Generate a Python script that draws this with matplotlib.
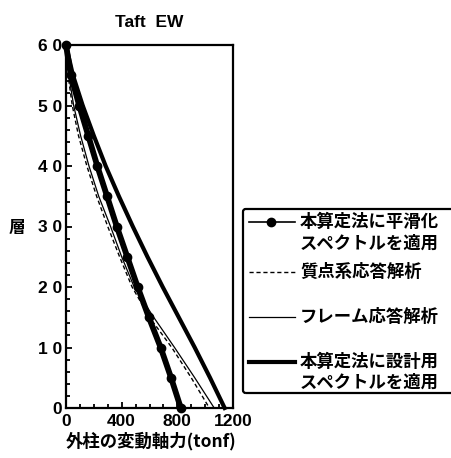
import matplotlib
matplotlib.use("Agg")
import matplotlib.pyplot as plt
from matplotlib.patches import FancyBboxPatch
from matplotlib.lines import Line2D
from matplotlib.ticker import MultipleLocator

plt.rcParams['font.family'] = ['Liberation Sans', 'Noto Sans CJK JP', 'DejaVu Sans']

# ---- data ----
floors = [60, 55, 50, 45, 40, 35, 30, 25, 20, 15, 10, 5, 0]
smoothed = [0, 35, 95, 160, 225, 295, 365, 440, 515, 595, 680, 755, 825]
mass_system = [0, 15, 45, 90, 150, 220, 300, 385, 475, 600, 760, 900, 1030]
frame = [0, 20, 55, 105, 165, 235, 320, 400, 490, 630, 780, 925, 1065]
design = [0, 50, 120, 200, 285, 380, 480, 585, 695, 810, 925, 1035, 1140]

xticks = [0, 400, 800, 1200]
xticklabels = ['0', '400', '800', '1200']
yticks = [0, 10, 20, 30, 40, 50, 60]
yticklabels = ['0', '1 0', '2 0', '3 0', '4 0', '5 0', '6 0']

legend_labels = ['本算定法に平滑化\nスペクトルを適用', '質点系応答解析',
                 'フレーム応答解析', '本算定法に設計用\nスペクトルを適用']

W, H = 451, 458
fig = plt.figure(figsize=(W / 100, H / 100), dpi=100)
ax = fig.add_axes([66 / W, 1 - 408 / H, (233 - 66) / W, (408 - 45) / H])

ax.plot(smoothed, floors, color='black', lw=4.2, marker='o', ms=6, clip_on=False,
        solid_capstyle='round')
ax.plot(mass_system, floors, color='black', lw=1.0, ls=(0, (3, 2)), clip_on=False)
ax.plot(frame, floors, color='black', lw=0.9, clip_on=False)
ax.plot(design, floors, color='black', lw=3.0, clip_on=False)

ax.set_xlim(0, 1200)
ax.set_ylim(0, 60)
for s in ax.spines.values():
    s.set_linewidth(1.6)

ax.set_xticks(xticks)
ax.set_xticklabels(xticklabels, fontsize=12.5, fontweight='bold')
ax.set_yticks(yticks)
ax.set_yticklabels(yticklabels, fontsize=12.5, fontweight='bold')
ax.xaxis.set_minor_locator(MultipleLocator(100))
ax.yaxis.set_minor_locator(MultipleLocator(2))
ax.tick_params(which='major', direction='in', length=4, width=1.3, pad=3)
ax.tick_params(which='minor', direction='in', length=3, width=1.3)
ax.tick_params(axis='x', pad=4)

ax.set_title('Taft  EW', fontsize=12.5, fontweight='bold', pad=13)

jp = ['Noto Sans CJK JP', 'DejaVu Sans']
fig.text(17 / W, 1 - 228 / H, '層', fontsize=12, fontweight='bold',
         ha='center', va='center', family=jp)
fig.text(151 / W, 1 - 441 / H, '外柱の変動軸力(tonf)', fontsize=12.5,
         fontweight='bold', ha='center', va='center', family=jp)

# ---- legend (drawn manually) ----
box = FancyBboxPatch((243 / W, 1 - 393 / H), (470 - 243) / W, (393 - 209) / H,
                     boxstyle='round,pad=0,rounding_size=0.006',
                     transform=fig.transFigure, fill=False, lw=1.6,
                     edgecolor='black', clip_on=False)
fig.add_artist(box)


def fy(y):
    return 1 - y / H


def fx(x):
    return x / W


handles = [
    dict(y=222, kw=dict(lw=1.2, marker='o', ms=6, markevery=[1])),
    dict(y=272, kw=dict(lw=1.0, ls=(0, (3, 2)))),
    dict(y=317, kw=dict(lw=0.9)),
    dict(y=362, kw=dict(lw=3.0)),
]
for h in handles:
    ln = Line2D([fx(249), fx(271), fx(295)], [fy(h['y'])] * 3, color='black',
                transform=fig.transFigure, **h['kw'])
    fig.add_artist(ln)

text_pos = [(222, 244), (272,), (317,), (362, 383)]
for lab, ys in zip(legend_labels, text_pos):
    for line, y in zip(lab.split('\n'), ys):
        fig.text(fx(300), fy(y), line, fontsize=12.5, fontweight='bold',
                 ha='left', va='center', family=jp)

fig.savefig('out.png', dpi=100)
